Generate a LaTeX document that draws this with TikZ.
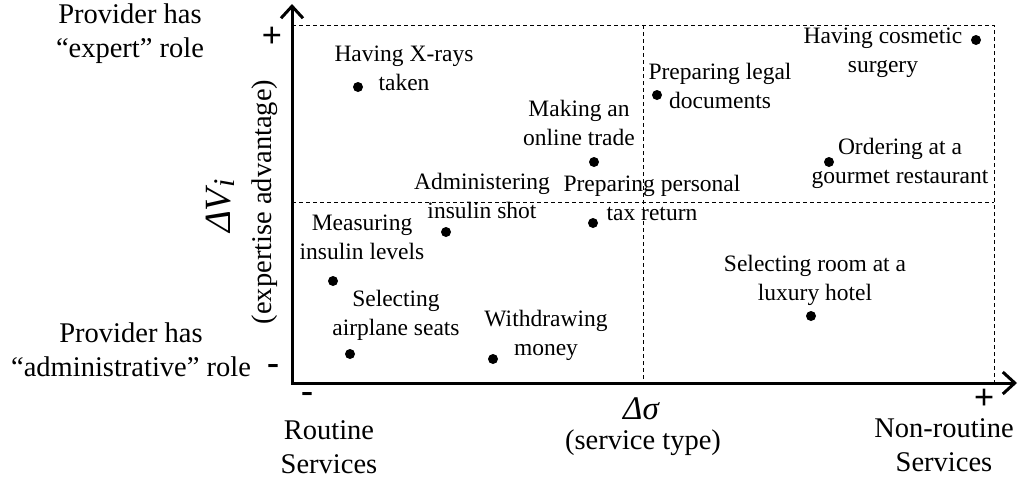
\documentclass[tikz,border=0pt]{standalone}
\usepackage{fontspec}
\setmainfont{Liberation Serif}
\usetikzlibrary{positioning, arrows.meta}

\begin{document}
\begin{tikzpicture}[
    x=1pt, y=-1pt,
    dot/.style={circle, fill=black, inner sep=0pt, minimum size=10pt},
    item/.style={
        align=center,
        inner sep=0pt,
        font=\fontsize{23.5}{29}\selectfont,
        execute at begin node=\strut,
        execute at end node=\strut
    },
    side/.style={
        align=center,
        inner sep=0pt,
        font=\fontsize{28.5}{34}\selectfont,
        execute at begin node=\strut,
        execute at end node=\strut
    },
    sign/.style={inner sep=0pt, font=\fontsize{36}{40}\selectfont\bfseries},
    axisline/.style={line width=3pt,
        {Straight Barb[length=12pt, width=22pt]}-{Straight Barb[length=12pt, width=22pt]}},
    guide/.style={line width=0.8pt, dash pattern=on 4pt off 3pt}
]
    \useasboundingbox (0,0) rectangle (1020,483);

    % quadrant frame
    \coordinate (tl) at (292,25);
    \coordinate (tr) at (994,25);
    \coordinate (br) at (994,383);
    \coordinate (tm) at (643,25);
    \coordinate (bm) at (643,383);
    \coordinate (ml) at (292,202);
    \coordinate (mr) at (994,202);

    \draw[guide] (tl) -- (tr) -- (br);
    \draw[guide] (tm) -- (bm);
    \draw[guide] (ml) -- (mr);

    % axes
    \coordinate (o) at (292,383);
    \coordinate (ytop) at (292,4);
    \coordinate (xend) at (1017,383);

    \draw[axisline] (ytop) -- (o) -- (xend);

    % services
    \node[dot] (xray)    at (358,87)  {};
    \node[dot] (legal)   at (657,95)  {};
    \node[dot] (cosm)    at (976,40)  {};
    \node[dot] (trade)   at (594,162) {};
    \node[dot] (gourmet) at (829,162) {};
    \node[dot] (shot)    at (446,232) {};
    \node[dot] (tax)     at (593,223) {};
    \node[dot] (levels)  at (333,281) {};
    \node[dot] (hotel)   at (811,316) {};
    \node[dot] (seats)   at (350,354) {};
    \node[dot] (money)   at (493,359) {};

    \node[item] (xray-l)    at (404,73)  {Having X-rays\\taken};
    \node[item] (legal-l)   at (720,90)  {Preparing legal\\documents};
    \node[item] (cosm-l)    at (883,55)  {Having cosmetic\\surgery};
    \node[item] (trade-l)   at (579,127) {Making an\\online trade};
    \node[item] (gourmet-l) at (900,165) {Ordering at a\\gourmet restaurant};
    \node[item] (shot-l)    at (482,200) {Administering\\insulin shot};
    \node[item] (tax-l)     at (652,202) {Preparing personal\\tax return};
    \node[item] (levels-l)  at (362,242) {Measuring\\insulin levels};
    \node[item] (hotel-l)   at (815,282) {Selecting room at a\\luxury hotel};
    \node[item] (seats-l)   at (396,317) {Selecting\\airplane seats};
    \node[item] (money-l)   at (546,337) {Withdrawing\\money};

    % axis labels
    \node[side] (expert) at (130,36)  {Provider has\\``expert'' role};
    \node[side] (admin)  at (131,355) {Provider has\\``administrative'' role};
    \node[side] (routine)    at (329,452) {Routine\\Services};
    \node[side] (nonroutine) at (944,450) {Non-routine\\Services};
    \node[anchor=base, inner sep=0pt, font=\fontsize{28.5}{34}\selectfont] (stype) at (643,449) {(service type)};
    \node[anchor=base, inner sep=0pt, font=\fontsize{33}{36}\selectfont\itshape] (dsigma) at (641,419) {Δσ};
    \node[rotate=90, anchor=base, inner sep=0pt, font=\fontsize{37}{40}\selectfont\itshape] (dv) at (230,206)
        {ΔV\kern1pt\raisebox{-0.12em}{\fontsize{30}{34}\selectfont i}};
    \node[rotate=90, anchor=base, inner sep=0pt, font=\fontsize{28.5}{34}\selectfont] (expadv) at (271,202) {(expertise advantage)};

    \node[sign] (yplus)  at (272,37)  {+};
    \node[sign] (yminus) at (273,369) {-};
    \node[sign] (xminus) at (307,397) {-};
    \node[sign] (xplus)  at (984,399) {+};

\end{tikzpicture}
\end{document}
